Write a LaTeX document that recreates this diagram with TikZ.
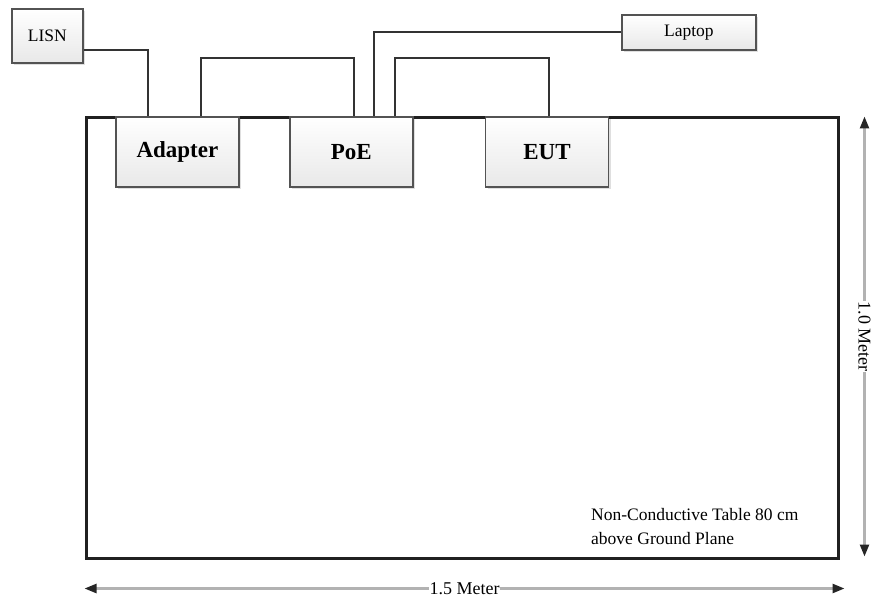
\documentclass[tikz,border=0pt]{standalone}
\usepackage{fontspec}
\setmainfont{Liberation Serif}
\usepackage{tikz}
\usetikzlibrary{positioning,arrows.meta,shadows}
\tikzset{
  dev/.style={draw=gray!65!black,line width=1.8pt,top color=white,bottom color=gray!18,
              drop shadow={opacity=0.25,shadow xshift=2pt,shadow yshift=-2pt},
              inner sep=0pt,align=center},
  bigdev/.style={dev,minimum width=123pt,minimum height=70pt,
                 font=\fontsize{23}{27}\selectfont\bfseries},
  smalldev/.style={dev,font=\fontsize{17.5}{21}\selectfont},
  wire/.style={draw=gray!40!black,line width=2pt},
  dimarr/.style={{Triangle[length=12pt,width=9pt]}-{Triangle[length=12pt,width=9pt]},
                 draw=gray!60,line width=2.4pt,
                 arrows={[color=gray!30!black]}},
  dimlbl/.style={fill=white,inner sep=1pt,text=black,font=\fontsize{18}{21}\selectfont}
}
\begin{document}
\begin{tikzpicture}[x=1pt,y=-1pt]
\useasboundingbox (0,0) rectangle (890,609);

% table outline
\node[draw=gray!25!black,line width=3pt,minimum width=752pt,minimum height=440pt,inner sep=0pt]
  (table) at (462,338) {};
\node[anchor=south west,align=left,inner sep=0pt,font=\fontsize{17.5}{24}\selectfont]
  (note) at (591,545) {Non-Conductive Table 80 cm\\above Ground Plane};

% devices
\node[bigdev,anchor=north west] (adapter) at (115,116) {Adapter};
\node[bigdev,right=49pt of adapter] (poe) {PoE};
\node[bigdev,right=71pt of poe] (eut) {EUT};
\node[smalldev,minimum width=71pt,minimum height=54pt,anchor=north west] (lisn) at (11,8) {LISN};
\node[smalldev,minimum width=134pt,minimum height=35pt,anchor=north west] (laptop) at (621,14) {Laptop};

% cables
\draw[wire] ([yshift=-14pt]lisn.east) -| ([xshift=33pt]adapter.north west);
\draw[wire] ([xshift=86pt]adapter.north west) -- ++(0,-58) -| ([xshift=65pt]poe.north west);
\draw[wire] ([xshift=106pt]poe.north west) -- ++(0,-58) -| ([xshift=64pt]eut.north west);
\draw[wire] ([xshift=85pt]poe.north west) |- (laptop.west);

% dimensions
\draw[dimarr] ([xshift=25pt]table.north east) -- node[dimlbl,rotate=-90] (hgt) {1.0 Meter}
  ([xshift=25pt,yshift=3pt]table.south east);
\draw[dimarr] ([yshift=-29pt]table.south west) -- node[dimlbl] (wid) {1.5 Meter}
  ([xshift=5pt,yshift=-29pt]table.south east);
\end{tikzpicture}
\end{document}
